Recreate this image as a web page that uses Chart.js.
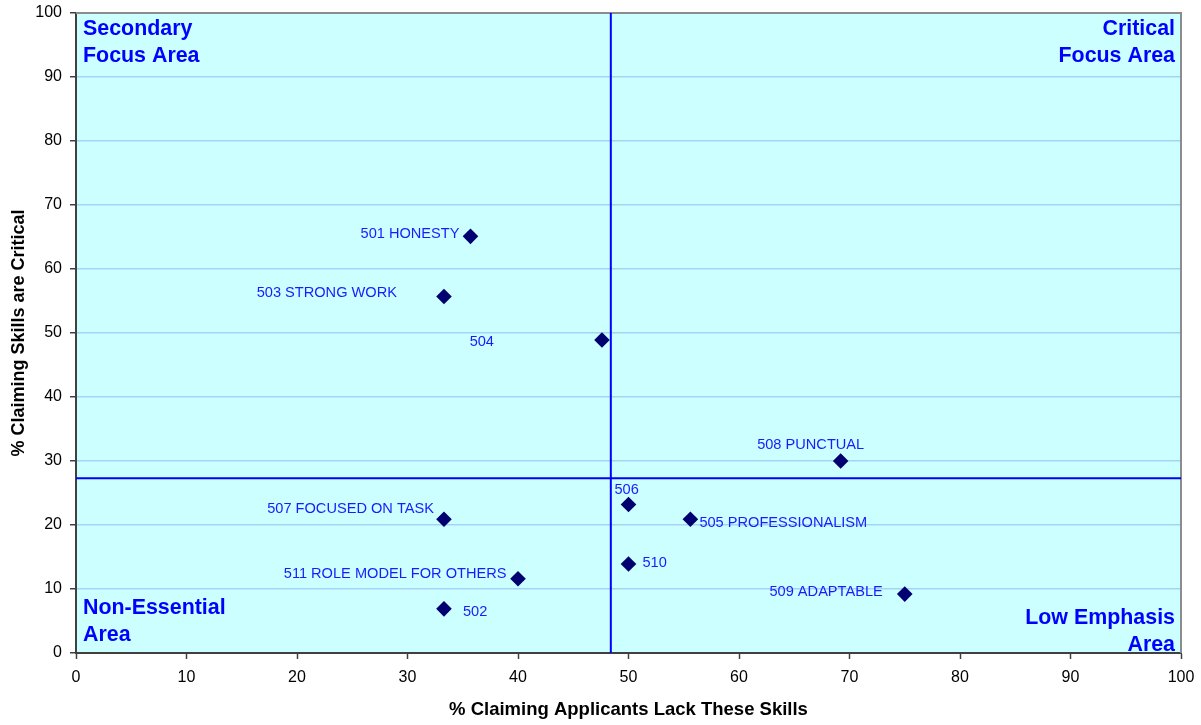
<!DOCTYPE html>
<html>
<head>
<meta charset="utf-8">
<script src="https://cdn.jsdelivr.net/npm/chart.js@4/dist/chart.umd.min.js"></script>
<style>
  html, body { margin: 0; padding: 0; background: #ffffff; }
  #wrap { width: 1201px; height: 725px; position: relative; }
</style>
</head>
<body>
<div id="wrap"><canvas id="c" width="1201" height="725"></canvas></div>
<script>
// ---- data ----
const skillLabels = ['501 HONESTY', '503 STRONG WORK', '504', '508 PUNCTUAL', '506',
  '505 PROFESSIONALISM', '510', '507 FOCUSED ON TASK', '511 ROLE MODEL FOR OTHERS', '502', '509 ADAPTABLE'];
const lackPct = [35.7, 33.3, 47.6, 69.2, 50.0, 55.6, 50.0, 33.3, 40.0, 33.3, 75.0];
const criticalPct = [65.1, 55.7, 48.9, 30.0, 23.2, 20.9, 13.9, 20.9, 11.6, 6.9, 9.2];
const dividerX = 48.4;
const dividerY = 27.3;
const xTickValues = [0, 10, 20, 30, 40, 50, 60, 70, 80, 90, 100];
const yTickValues = [0, 10, 20, 30, 40, 50, 60, 70, 80, 90, 100];
const xTitle = '% Claiming Applicants Lack These Skills';
const yTitle = '% Claiming Skills are Critical';
const quadrantTopLeft = ['Secondary', 'Focus Area'];
const quadrantTopRight = ['Critical', 'Focus Area'];
const quadrantBottomLeft = ['Non-Essential', 'Area'];
const quadrantBottomRight = ['Low Emphasis', 'Area'];

// ---- label placement (pixel offsets from each point) ----
const labelPlacement = [
  {align: 'right', dx: -11, dy: -2},
  {align: 'right', dx: -47, dy: -4},
  {align: 'right', dx: -108, dy: 1.5},
  {align: 'center', dx: -30, dy: -16.5},
  {align: 'left', dx: -14, dy: -15},
  {align: 'left', dx: 9, dy: 4},
  {align: 'left', dx: 14, dy: -1.5},
  {align: 'right', dx: -10, dy: -10},
  {align: 'right', dx: -11.5, dy: -5},
  {align: 'left', dx: 19, dy: 2.7},
  {align: 'right', dx: -22, dy: -2}
];

const FONT = 'Arial, "Liberation Sans", sans-serif';

const areaPlugin = {
  id: 'areaPlugin',
  beforeDraw(chart) {
    const {ctx, chartArea: a} = chart;
    ctx.save();
    ctx.fillStyle = '#ccffff';
    ctx.fillRect(a.left, a.top, a.right - a.left, a.bottom - a.top);
    ctx.restore();
  },
  beforeDatasetsDraw(chart) {
    const {ctx, chartArea: a} = chart;
    ctx.save();
    ctx.strokeStyle = '#8c8c8c';
    ctx.lineWidth = 2;
    ctx.beginPath();
    ctx.moveTo(a.left, a.top);
    ctx.lineTo(a.right, a.top);
    ctx.lineTo(a.right, a.bottom);
    ctx.stroke();
    ctx.restore();
  },
  afterDatasetsDraw(chart) {
    const {ctx, chartArea: a} = chart;
    const meta = chart.getDatasetMeta(2);
    ctx.save();
    ctx.font = '14.6px ' + FONT;
    ctx.fillStyle = '#1a1aff';
    ctx.textBaseline = 'middle';
    meta.data.forEach((pt, i) => {
      const p = labelPlacement[i];
      ctx.textAlign = p.align;
      ctx.fillText(skillLabels[i], pt.x + p.dx, pt.y + p.dy);
    });
    // quadrant labels
    ctx.font = 'bold 21.4px ' + FONT;
    ctx.fillStyle = '#0000ff';
    ctx.textBaseline = 'alphabetic';
    ctx.textAlign = 'left';
    ctx.fillText(quadrantTopLeft[0], a.left + 7, a.top + 22);
    ctx.fillText(quadrantTopLeft[1], a.left + 7, a.top + 49);
    ctx.fillText(quadrantBottomLeft[0], a.left + 7, a.bottom - 39);
    ctx.fillText(quadrantBottomLeft[1], a.left + 7, a.bottom - 12);
    ctx.textAlign = 'right';
    ctx.fillText(quadrantTopRight[0], a.right - 6, a.top + 21.5);
    ctx.fillText(quadrantTopRight[1], a.right - 6, a.top + 49);
    ctx.fillText(quadrantBottomRight[0], a.right - 6, a.bottom - 29);
    ctx.fillText(quadrantBottomRight[1], a.right - 6, a.bottom - 2);
    ctx.restore();
  }
};

const points = lackPct.map((x, i) => ({x: x, y: criticalPct[i]}));

new Chart(document.getElementById('c'), {
  type: 'scatter',
  data: {
    datasets: [
      {
        data: [{x: dividerX, y: yTickValues[0]}, {x: dividerX, y: yTickValues[yTickValues.length - 1]}],
        showLine: true, borderColor: '#0000ff', borderWidth: 2, pointRadius: 0, order: 3
      },
      {
        data: [{x: xTickValues[0], y: dividerY}, {x: xTickValues[xTickValues.length - 1], y: dividerY}],
        showLine: true, borderColor: '#0000ff', borderWidth: 2, pointRadius: 0, order: 2
      },
      {
        data: points,
        pointStyle: 'rectRot',
        pointRadius: 7.8,
        pointHoverRadius: 7.8,
        backgroundColor: '#000070',
        borderColor: '#000070',
        borderWidth: 0,
        order: 1
      }
    ]
  },
  options: {
    responsive: false,
    animation: false,
    events: [],
    layout: { padding: { top: 13, right: 20, left: 0, bottom: 0 } },
    plugins: { legend: { display: false }, tooltip: { enabled: false } },
    scales: {
      x: {
        type: 'linear',
        min: xTickValues[0],
        max: xTickValues[xTickValues.length - 1],
        afterFit(scale) { scale.height = 72; scale.paddingLeft = 0; scale.paddingRight = 0; },
        afterBuildTicks(scale) { scale.ticks = xTickValues.map(v => ({value: v})); },
        ticks: { color: '#000', font: { family: FONT, size: 16 }, padding: 9, maxRotation: 0 },
        grid: { display: true, drawOnChartArea: false, drawTicks: true, tickLength: 6, tickColor: '#404040', tickWidth: 1.5 },
        border: { display: true, color: '#404040', width: 2 },
        title: { display: true, text: xTitle, color: '#000', font: { family: FONT, size: 18.5, weight: 'bold' }, padding: { top: 0, bottom: 4 } }
      },
      y: {
        type: 'linear',
        min: yTickValues[0],
        max: yTickValues[yTickValues.length - 1],
        afterFit(scale) { scale.width = 76; scale.paddingTop = 0; scale.paddingBottom = 0; },
        afterBuildTicks(scale) { scale.ticks = yTickValues.map(v => ({value: v})); },
        ticks: { color: '#000', font: { family: FONT, size: 16 }, padding: 8 },
        grid: { display: true, drawOnChartArea: true, color: '#a6d3f5', lineWidth: 1.5, drawTicks: true, tickLength: 6, tickColor: '#404040', tickWidth: 1.5 },
        border: { display: true, color: '#404040', width: 2 },
        title: { display: true, text: yTitle, color: '#000', font: { family: FONT, size: 18, weight: 'bold' }, padding: { top: 8, bottom: 0 } }
      }
    }
  },
  plugins: [areaPlugin]
});
</script>
</body>
</html>
